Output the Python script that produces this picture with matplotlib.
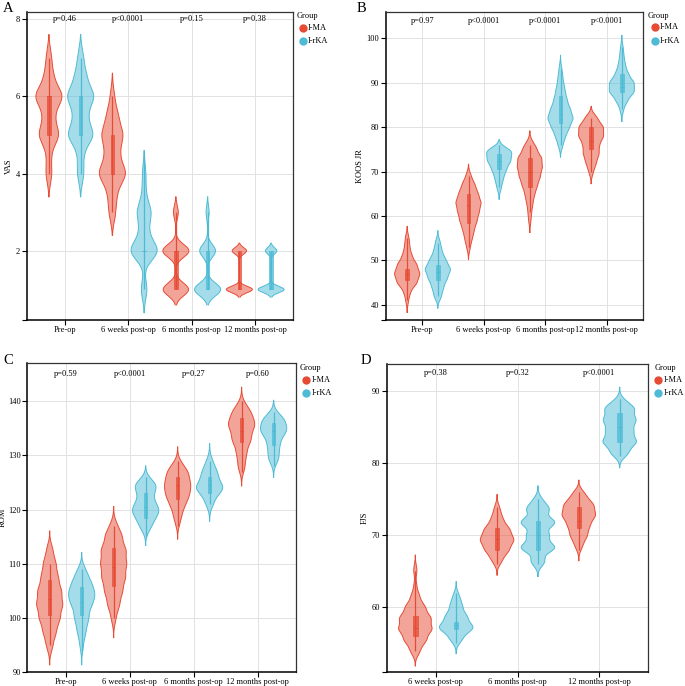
import numpy as np
import matplotlib
matplotlib.use("Agg")
import matplotlib.pyplot as plt
from matplotlib.patches import Rectangle
from matplotlib.lines import Line2D

plt.rcParams['font.family'] = ['Liberation Serif', 'DejaVu Serif']

# ---------------- data ----------------
groups = ['I-MA', 'I-rKA']
group_colors = ['#E64B35', '#4DBBD5']

cats4 = ['Pre-op', '6 weeks post-op', '6 months post-op', '12 months post-op']
cats3 = ['6 weeks post-op', '6 months post-op', '12 months post-op']

# Panel A: VAS
a_p = ['p=0.46', 'p<0.0001', 'p=0.15', 'p=0.38']
a_ma_vals = [[4, 4.5, 5, 5.5, 6, 6.5, 7], [3, 3.5, 4, 4.5, 5, 5.5, 6], [1, 2, 3], [1, 2]]
a_ma_counts = [[15, 10, 50, 25, 68, 22, 13], [17, 22, 68, 33, 53, 28, 10], [72, 74, 14], [76, 42]]
a_rka_vals = [[4, 4.5, 5, 5.5, 6, 6.5, 7], [1, 1.5, 2, 2.5, 3, 3.5, 4], [1, 2, 3], [1, 2]]
a_rka_counts = [[16, 13, 63, 31, 66, 28, 14], [14, 0, 64, 18, 32, 8, 8], [76, 46, 9], [78, 34]]
# box stats: whisker low, Q1, median, Q3, whisker high
a_ma_box = [(4, 5, 6, 6, 7), (3, 4, 4, 5, 6), (1, 1, 2, 2, 3), (1, 1, 1, 2, 2)]
a_rka_box = [(4, 5, 5, 6, 7), (1, 2, 2, 2, 4.5), (1, 1, 1, 2, 3), (1, 1, 1, 2, 2)]

# Panel B: KOOS JR
b_p = ['p=0.97', 'p<0.0001', 'p<0.0001', 'p<0.0001']
b_ma_vals = [[41, 43, 45, 47, 49, 51, 53, 55],
             [53, 55, 57, 59, 61, 63, 65, 67, 69],
             [59, 61, 63, 65, 67, 69, 71, 73, 75, 76.5],
             [70, 72, 74, 76, 78, 80, 82]]
b_ma_counts = [[7, 17, 50, 64, 49, 24, 13, 10],
               [9, 19, 29, 43, 53, 63, 48, 33, 13],
               [6, 9, 15, 24, 37, 51, 60, 58, 32, 12],
               [11, 25, 38, 38, 60, 59, 30]]
b_rka_vals = [[42, 44, 46, 48, 50, 52, 54],
              [66.5, 68.5, 70.5, 72.5, 74.5],
              [76, 78, 80, 82, 84, 86, 88, 90, 92, 93.5],
              [84, 86, 88, 90, 92, 94, 96, 98]]
b_rka_counts = [[18, 27, 45, 62, 40, 20, 12],
                [11, 20, 34, 55, 62],
                [12, 25, 43, 62, 47, 32, 23, 15, 9, 4],
                [8, 26, 58, 57, 29, 16, 10, 6]]
b_ma_box = [(41, 45.5, 47, 48, 55), (53, 58.5, 62.5, 65, 69), (61, 66.5, 70, 73, 76), (70, 75, 77, 80, 82)]
b_rka_box = [(42, 45.5, 47.5, 49, 54), (66.5, 70.5, 72.5, 74, 76), (76, 81, 83, 87, 93), (84, 88, 89, 92, 98)]

# Panel C: ROM
c_p = ['p=0.59', 'p<0.0001', 'p=0.27', 'p=0.60']
c_ma_vals = [[95, 97.5, 100, 102.5, 105, 107.5, 110, 112.5],
             [100, 102.5, 105, 107.5, 110, 112.5, 115, 117],
             [118.2, 120.5, 122.5, 124.5, 126.5, 128],
             [128, 130.5, 133, 135.5, 137.5, 139]]
c_ma_counts = [[16, 32, 50, 63, 57, 41, 31, 16],
               [11, 28, 42, 55, 60, 58, 38, 15],
               [15, 26, 45, 52, 40, 20],
               [16, 22, 42, 55, 35, 16]]
c_rka_vals = [[95, 97.5, 100, 102.5, 104.5, 106.5, 108.5],
              [117, 119, 120.5, 122.5, 124.5],
              [121.5, 124, 126.5, 128.6],
              [129.6, 132, 134.5, 136.6]]
c_rka_counts = [[9, 24, 39, 50, 62, 44, 24],
                [25, 40, 45, 25, 50],
                [20, 65, 36, 15],
                [24, 26, 55, 45]]
c_ma_box = [(95, 100.5, 103.5, 107, 110), (100, 106, 109.5, 113, 117), (117, 122, 124.5, 126, 129), (127, 132.5, 134.5, 137, 140)]
c_rka_box = [(94, 100.5, 103, 105.7, 109), (115, 118.5, 120.5, 123, 126), (121, 123, 124.5, 126, 129), (128, 132, 134.5, 136, 138)]

# Panel D: FJS
d_p = ['p=0.38', 'p=0.32', 'p<0.0001']
d_ma_vals = [[54, 55.5, 57, 58.5, 60, 61.5, 63, 65.2],
             [66.6, 68, 69.4, 70.8, 72.2, 73.6],
             [68.6, 70, 71.4, 72.8, 74.2, 75.6]]
d_ma_counts = [[24, 54, 81, 76, 49, 21, 7, 9],
               [25, 57, 80, 60, 28, 15],
               [18, 40, 50, 78, 70, 33]]
d_rka_vals = [[55.7, 57.2, 58.7, 60.2, 61.5],
              [66.4, 68.3, 70, 71.8, 73.6, 74.8],
              [81.5, 83, 84.5, 86, 87.5, 88.5]]
d_rka_counts = [[28, 78, 48, 26, 14],
                [38, 94, 60, 94, 58, 22],
                [42, 80, 62, 76, 65, 22]]
d_ma_box = [(54, 56, 57.2, 58.8, 65), (66, 68, 69.5, 71, 74), (68, 71, 72, 74, 76)]
d_rka_box = [(55, 57, 57.5, 58, 62), (66, 68, 70, 72, 75), (81, 83, 85, 87, 89)]

# ---------------- style ----------------
W, H = 685, 686
fig = plt.figure(figsize=(W / 100, H / 100), dpi=100)

def fx(px):
    return px / W

def fy(py):
    return 1 - py / H

FS = 6
HALF_W = 0.205
DODGE = 0.25
BOX_W = 0.055


def kde_profile(values, counts, bw, cut):
    v = np.asarray(values, float)
    c = np.asarray(counts, float)
    y = np.linspace(v.min() - cut * bw, v.max() + cut * bw, 300)
    d = (c[None, :] * np.exp(-0.5 * ((y[:, None] - v[None, :]) / bw) ** 2)).sum(axis=1)
    return y, d / d.max()


def draw_violin(ax, x, values, counts, bw, cut, box, color):
    y, d = kde_profile(values, counts, bw, cut)
    xs = np.concatenate([x - HALF_W * d, (x + HALF_W * d)[::-1]])
    ys = np.concatenate([y, y[::-1]])
    ax.fill(xs, ys, facecolor=color, alpha=0.5, edgecolor='none', zorder=2)
    ax.plot(xs, ys, color=color, lw=0.7, zorder=3)
    wlo, q1, med, q3, whi = box
    ax.vlines(x, wlo, whi, color=color, lw=0.9, zorder=4)
    ax.add_patch(Rectangle((x - BOX_W / 2, q1), BOX_W, q3 - q1, facecolor=color,
                           alpha=0.75, edgecolor=color, lw=0.6, zorder=5))
    ax.hlines(med, x - BOX_W / 2, x + BOX_W / 2, color=color, lw=0.7, zorder=6)


def panel(rect, cats, pvals, ma_vals, ma_counts, rka_vals, rka_counts, ma_box, rka_box,
          bws_ma, bws_rka, cut, ylim, yticks, ylabel, ptext_y, ylabel_x, bottom_tick_label):
    ax = fig.add_axes(rect)
    n = len(cats)
    xpos = np.arange(1, n + 1)
    ax.set_xlim(0.4, n + 0.6)
    ax.set_ylim(*ylim)
    ax.set_axisbelow(True)
    for yt in yticks:
        ax.axhline(yt, color='#E2E2E2', lw=0.7, zorder=0)
    for xp in xpos:
        ax.axvline(xp, color='#E2E2E2', lw=0.7, zorder=0)
    for i in range(n):
        draw_violin(ax, xpos[i] - DODGE, ma_vals[i], ma_counts[i], bws_ma[i], cut, ma_box[i], group_colors[0])
        draw_violin(ax, xpos[i] + DODGE, rka_vals[i], rka_counts[i], bws_rka[i], cut, rka_box[i], group_colors[1])
        ax.text(xpos[i], ptext_y, pvals[i], ha='center', va='center', fontsize=FS)
    ax.set_xticks(xpos)
    ax.set_xticklabels(cats, fontsize=FS)
    ticks = list(yticks)
    labels = [str(t) for t in yticks]
    if ylim[0] < yticks[0] - 1e-9:
        ticks = [ylim[0]] + ticks
        labels = [bottom_tick_label] + labels
    ax.set_yticks(ticks)
    ax.set_yticklabels(labels, fontsize=FS)
    ax.tick_params(axis='both', direction='out', length=3.5, width=0.8, color='black')
    ax.tick_params(axis='x', pad=0.6)
    ax.tick_params(axis='y', pad=1.2)
    for s in ['top', 'right']:
        ax.spines[s].set_color('#333333')
        ax.spines[s].set_linewidth(0.9)
    for s in ['left', 'bottom']:
        ax.spines[s].set_color('black')
        ax.spines[s].set_linewidth(1.1)
    ax.set_ylabel(ylabel, fontsize=FS)
    ax.yaxis.set_label_coords(ylabel_x, 0.5)
    return ax


# A
panel([fx(26.7), fy(320), fx(293.3) - fx(26.7), fy(11.7) - fy(320)], cats4, a_p,
      a_ma_vals, a_ma_counts, a_rka_vals, a_rka_counts, a_ma_box, a_rka_box,
      [0.25, 0.25, 0.167, 0.083], [0.25, 0.25, 0.167, 0.083], 2.4,
      (0.21, 8.19), [2, 4, 6, 8], 'VAS', 8.0, -0.051, '')
# B
panel([fx(385.7), fy(320), fx(643.3) - fx(385.7), fy(11.7) - fy(320)], cats4, b_p,
      b_ma_vals, b_ma_counts, b_rka_vals, b_rka_counts, b_ma_box, b_rka_box,
      [1.0] * 4, [1.0] * 4, 2.7,
      (36.6, 106.0), [40, 50, 60, 70, 80, 90, 100], 'KOOS JR', 104.0, -0.085, '')
# C
panel([fx(27.3), fy(672.3), fx(296) - fx(27.3), fy(363.3) - fy(672.3)], cats4, c_p,
      c_ma_vals, c_ma_counts, c_rka_vals, c_rka_counts, c_ma_box, c_rka_box,
      [1.2] * 4, [1.2] * 4, 3.0,
      (90, 147), [90, 100, 110, 120, 130, 140], 'ROM', 145.0, -0.0755, '')
# D
panel([fx(386.7), fy(672.3), fx(648.3) - fx(386.7), fy(364) - fy(672.3)], cats3, d_p,
      d_ma_vals, d_ma_counts, d_rka_vals, d_rka_counts, d_ma_box, d_rka_box,
      [0.7] * 3, [0.7] * 3, 3.0,
      (51.0, 93.8), [60, 70, 80, 90], 'FJS', 92.5, -0.068, '')

# legends
legend_pos = [(297, 15.7, 303, 28.3, 41.0, 308),
              (648, 15.7, 655, 27.3, 40.7, 660),
              (300, 368.3, 306, 380.0, 393.3, 311.7),
              (655, 368.3, 658.3, 380.0, 393.3, 663.5)]
for gx, gy, mx, my1, my2, lx in legend_pos:
    fig.text(fx(gx), fy(gy), 'Group', fontsize=FS, ha='left', va='center')
    for name, col, my in zip(groups, group_colors, [my1, my2]):
        fig.add_artist(Line2D([fx(mx)], [fy(my)], marker='o', markersize=6, color=col,
                              markeredgewidth=0, linestyle='none', transform=fig.transFigure))
        fig.text(fx(lx), fy(my), name, fontsize=FS, ha='left', va='center')

# panel letters
for letter, px, py in [('A', 3, 12), ('B', 357, 12), ('C', 3, 363.5), ('D', 361, 364)]:
    fig.text(fx(px), fy(py), letter, fontsize=10.5, ha='left', va='baseline')

fig.savefig('out.png', dpi=100)
